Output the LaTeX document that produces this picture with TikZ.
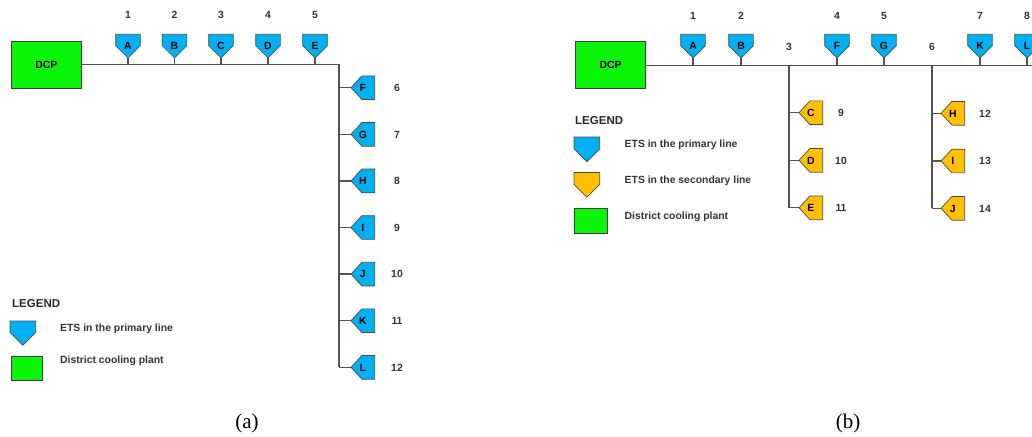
\documentclass[tikz,border=0pt]{standalone}
\usepackage{fontspec}
\setmainfont{Liberation Sans}
\newfontfamily\capfont{Liberation Serif}
\definecolor{etsblue}{RGB}{0,176,240}
\definecolor{etsorange}{RGB}{255,192,0}
\definecolor{plantgreen}{RGB}{10,245,10}
\makeatletter
\pgfdeclareshape{pentadown}{
  \inheritsavedanchors[from=rectangle]
  \inheritanchorborder[from=rectangle]
  \inheritanchor[from=rectangle]{center}
  \inheritanchor[from=rectangle]{north}
  \inheritanchor[from=rectangle]{south}
  \inheritanchor[from=rectangle]{east}
  \inheritanchor[from=rectangle]{west}
  \inheritanchor[from=rectangle]{north east}
  \inheritanchor[from=rectangle]{north west}
  \inheritanchor[from=rectangle]{south east}
  \inheritanchor[from=rectangle]{south west}
  \backgroundpath{
    \southwest \pgf@xa=\pgf@x \pgf@ya=\pgf@y
    \northeast \pgf@xb=\pgf@x \pgf@yb=\pgf@y
    \pgf@xc=.5\pgf@xa \advance\pgf@xc by .5\pgf@xb
    \pgf@yc=\pgf@ya \advance\pgf@yc by .5\pgf@xb \advance\pgf@yc by -.5\pgf@xa
    \pgfpathmoveto{\pgfqpoint{\pgf@xa}{\pgf@yb}}
    \pgfpathlineto{\pgfqpoint{\pgf@xb}{\pgf@yb}}
    \pgfpathlineto{\pgfqpoint{\pgf@xb}{\pgf@yc}}
    \pgfpathlineto{\pgfqpoint{\pgf@xc}{\pgf@ya}}
    \pgfpathlineto{\pgfqpoint{\pgf@xa}{\pgf@yc}}
    \pgfpathclose
  }
}
\pgfdeclareshape{pentaleft}{
  \inheritsavedanchors[from=rectangle]
  \inheritanchorborder[from=rectangle]
  \inheritanchor[from=rectangle]{center}
  \inheritanchor[from=rectangle]{north}
  \inheritanchor[from=rectangle]{south}
  \inheritanchor[from=rectangle]{east}
  \inheritanchor[from=rectangle]{west}
  \inheritanchor[from=rectangle]{north east}
  \inheritanchor[from=rectangle]{north west}
  \inheritanchor[from=rectangle]{south east}
  \inheritanchor[from=rectangle]{south west}
  \backgroundpath{
    \southwest \pgf@xa=\pgf@x \pgf@ya=\pgf@y
    \northeast \pgf@xb=\pgf@x \pgf@yb=\pgf@y
    \pgf@yc=.5\pgf@ya \advance\pgf@yc by .5\pgf@yb
    \pgf@xc=\pgf@xa \advance\pgf@xc by .46\pgf@yb \advance\pgf@xc by -.46\pgf@ya
    \pgfpathmoveto{\pgfqpoint{\pgf@xb}{\pgf@yb}}
    \pgfpathlineto{\pgfqpoint{\pgf@xb}{\pgf@ya}}
    \pgfpathlineto{\pgfqpoint{\pgf@xc}{\pgf@ya}}
    \pgfpathlineto{\pgfqpoint{\pgf@xa}{\pgf@yc}}
    \pgfpathlineto{\pgfqpoint{\pgf@xc}{\pgf@yb}}
    \pgfpathclose
  }
}
\makeatother
\begin{document}
\begin{tikzpicture}[x=1pt,y=-1pt,
  txt/.style={font=\fontsize{10.4}{12}\selectfont\bfseries, text=black!80, inner sep=0, text height=7.5pt, text depth=0pt},
  legtitle/.style={font=\fontsize{11.5}{13}\selectfont\bfseries, text=black!85, inner sep=0, text height=8.3pt, text depth=0pt, anchor=west},
  wire/.style={draw=black!68, line width=1.3pt},
  dcp/.style={draw=black!75, line width=0.9pt, fill=plantgreen, minimum width=70, minimum height=47, inner sep=0,
    font=\fontsize{10.4}{12}\selectfont\bfseries, text height=7.5pt, text depth=0pt},
  etsd/.style={shape=pentadown, draw=black!70, line width=0.7pt, fill=etsblue, minimum width=24, minimum height=23, inner sep=0,
    font=\fontsize{10.4}{12}\selectfont\bfseries, text height=7.5pt, text depth=0pt},
  etsl/.style={shape=pentaleft, draw=black!70, line width=0.7pt, fill=etsblue, minimum width=23, minimum height=23, inner sep=0,
    font=\fontsize{10.4}{12}\selectfont\bfseries, text height=7.5pt, text depth=0pt},
  caption/.style={font=\capfont\fontsize{21}{24}\selectfont, inner sep=0}
]
\useasboundingbox (0,0) rectangle (1032,436);
\clip (0,0) rectangle (1032,436);

% ---------------- (a) ----------------
\node[dcp] (dcpa) at (46.3,64.6) {DCP};
\coordinate (ca) at (339,64.6);
\foreach \l/\x/\n in {A/128/1, B/174.5/2, C/221/3, D/268/4, E/315/5} {
  \node[etsd, anchor=south] (a-\l) at (\x,58) {\l};
  \node[txt] (na-\n) at (\x,15) {\n};
  \draw[wire] (a-\l.south) -- (a-\l.south |- dcpa.east);
}
\foreach \l/\y/\n in {F/87.7/6, G/134.3/7, H/180.9/8, I/227.5/9, J/274.1/10, K/320.7/11, L/367.3/12} {
  \node[etsl, anchor=west] (a-\l) at (351,\y) {\l};
  \node[txt] (na-\n) at (397,\y) {\n};
  \draw[wire] (a-\l.west) -- (a-\l.west -| ca);
}
\draw[wire] (dcpa.east) -- (ca) -- (ca |- a-L.west);

% legend (a)
\node[legtitle] (lega) at (12,303) {LEGEND};
\node[etsd, minimum width=25, minimum height=23.5, anchor=north west] (lega-ets) at (10,321) {};
\node[txt, anchor=west] (lega-etst) at (60,328) {ETS in the primary line};
\node[dcp, minimum width=31, minimum height=24, anchor=north west] (lega-dcp) at (11,356) {};
\node[txt, anchor=west] (lega-dcpt) at (60,360) {District cooling plant};

\node[caption] (capa) at (247,423) {(a)};

% ---------------- (b) ----------------
\node[dcp] (dcpb) at (610.5,65.2) {DCP};
\coordinate (eb) at (1045,65.2);
\coordinate (b3) at (789,65.2);
\coordinate (b6) at (932,65.2);
\draw[wire] (dcpb.east) -- (eb);
\foreach \l/\x/\n in {A/693/1, B/741/2, F/837/4, G/884/5, K/980/7, L/1027/8} {
  \node[etsd, anchor=south] (b-\l) at (\x,58) {\l};
  \node[txt] (nb-\n) at (\x,15.5) {\n};
  \draw[wire] (b-\l.south) -- (b-\l.south |- dcpb.east);
}
\node[txt] (nb-3) at (789,47) {3};
\node[txt] (nb-6) at (932,47) {6};
\foreach \l/\y/\n in {C/112.7/9, D/160.3/10, E/207.8/11} {
  \node[etsl, fill=etsorange, anchor=west] (b-\l) at (799,\y) {\l};
  \node[txt] (nb-\n) at (841,\y) {\n};
  \draw[wire] (b-\l.west) -- (b-\l.west -| b3);
}
\foreach \l/\y/\n in {H/113.3/12, I/161/13, J/208.3/14} {
  \node[etsl, fill=etsorange, anchor=west] (b-\l) at (941,\y) {\l};
  \node[txt] (nb-\n) at (985,\y) {\n};
  \draw[wire] (b-\l.west) -- (b-\l.west -| b6);
}
\draw[wire] (b3) -- (b3 |- b-E.west);
\draw[wire] (b6) -- (b6 |- b-J.west);

% legend (b)
\node[legtitle] (legb) at (575,120) {LEGEND};
\node[etsd, minimum width=25, minimum height=24, anchor=north west] (legb-ets) at (574,137) {};
\node[txt, anchor=west] (legb-etst) at (624.5,144) {ETS in the primary line};
\node[etsd, fill=etsorange, minimum width=25, minimum height=24, anchor=north west] (legb-ets2) at (574,172.5) {};
\node[txt, anchor=west] (legb-ets2t) at (624.5,180) {ETS in the secondary line};
\node[dcp, minimum width=32.5, minimum height=24.5, anchor=north west] (legb-dcp) at (574,208.3) {};
\node[txt, anchor=west] (legb-dcpt) at (624.5,215.7) {District cooling plant};

\node[caption] (capb) at (848,423) {(b)};
\end{tikzpicture}
\end{document}
